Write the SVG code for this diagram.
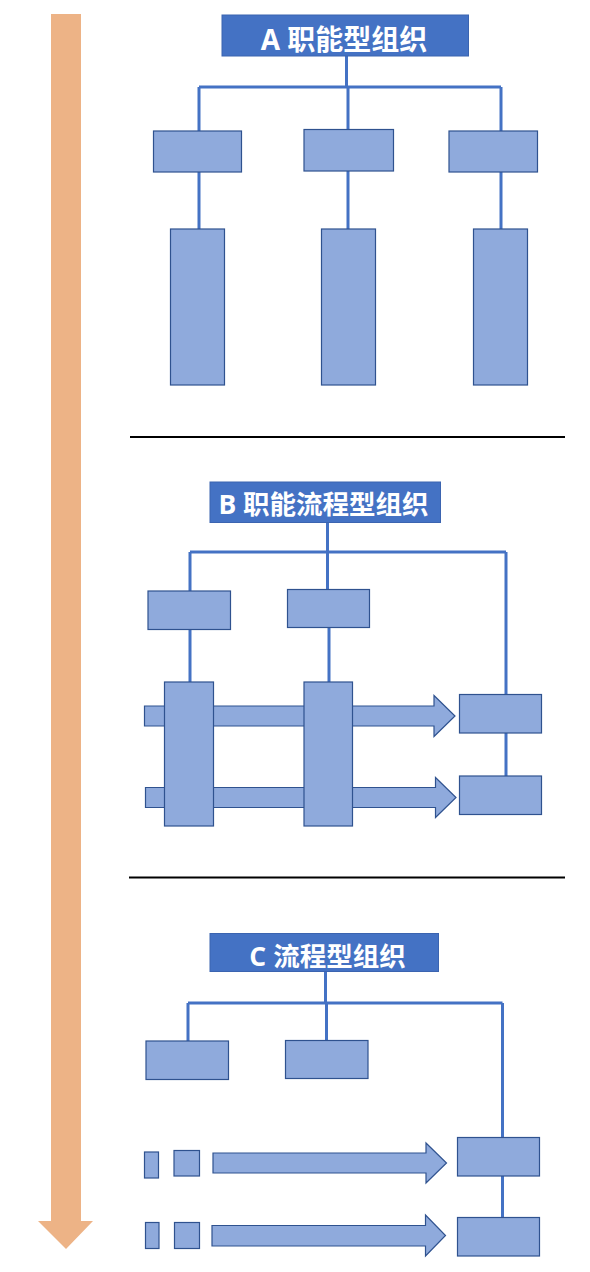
<svg xmlns="http://www.w3.org/2000/svg" width="590" height="1272" viewBox="0 0 590 1272">
<style>
.title{fill:#4472C4;stroke:#3B64B0;stroke-width:1}
.tt{font-family:"Open Sans","Noto Sans CJK SC",sans-serif;font-weight:bold;font-size:26.5px;fill:#fff;text-anchor:middle}
.box{fill:#8FAADC;stroke:#2F528F;stroke-width:1.2}
.conn{fill:none;stroke:#4472C4;stroke-width:3}
.sep{stroke:#000;stroke-width:2}
</style>
<rect width="590" height="1272" fill="#fff"/>
<g id="timeline">
<polygon points="51,14 81,14 81,1221 93,1221 66,1249 38,1221 51,1221" fill="#EDB386"/>
</g>
<g id="separators">
<line class="sep" x1="130" y1="437" x2="565" y2="437"/>
<line class="sep" x1="129" y1="877.5" x2="565" y2="877.5"/>
</g>
<g id="connectors">
<path class="conn" d="M346.5,56 V87 M199,87 H501 M199,87 V131 M348,87 V129.5 M501,87 V131 M199,172 V229 M348,171 V229 M501,172 V229"/>
<path class="conn" d="M327.5,523 V552 M190,552 H506 M190,552 V591 M327.5,552 V589.5 M506,552 V694.5 M190,629 V682 M329,628 V682 M506,733 V776"/>
<path class="conn" d="M325.5,972 V1003 M188,1003 H502.5 M188,1003 V1041 M326.5,1003 V1040.5 M502.5,1003 V1137.5 M502.5,1176 V1217.5"/>
</g>
<g id="A">
<g id="A-title"><rect class="title" x="222" y="15" width="246.5" height="41"/><text class="tt" x="344" y="50" style="font-size:28px">A 职能型组织</text></g>
<rect id="A-f1" class="box" x="153.5" y="131" width="88" height="41"/>
<rect id="A-f2" class="box" x="304" y="129.5" width="89.5" height="41.5"/>
<rect id="A-f3" class="box" x="449" y="131" width="88.5" height="41"/>
<rect id="A-c1" class="box" x="170.5" y="229" width="54" height="156"/>
<rect id="A-c2" class="box" x="321.5" y="229" width="54" height="156"/>
<rect id="A-c3" class="box" x="473.5" y="229" width="54" height="156"/>
</g>
<g id="B">
<g id="B-title"><rect class="title" x="210" y="482" width="230.5" height="40.5"/><text class="tt" x="323.5" y="514">B 职能流程型组织</text></g>
<rect id="B-f1" class="box" x="148" y="591" width="82.5" height="38.5"/>
<rect id="B-f2" class="box" x="287.5" y="589.5" width="82" height="38"/>
<polygon id="B-arrow1" class="box" points="144.5,706 434,706 434,695.5 455,716 434,736.5 434,726 144.5,726"/>
<polygon id="B-arrow2" class="box" points="145.5,787.5 435.5,787.5 435.5,777.5 456,797.5 435.5,817.5 435.5,807.5 145.5,807.5"/>
<rect id="B-c1" class="box" x="164.5" y="682" width="49" height="144"/>
<rect id="B-c2" class="box" x="304" y="682" width="48.5" height="144"/>
<rect id="B-p1" class="box" x="459.5" y="694.5" width="82" height="38.5"/>
<rect id="B-p2" class="box" x="459.5" y="776" width="82" height="38.5"/>
</g>
<g id="C">
<g id="C-title"><rect class="title" x="210" y="933.5" width="228.5" height="38"/><text class="tt" x="327.5" y="966">C 流程型组织</text></g>
<rect id="C-f1" class="box" x="146" y="1041" width="82.5" height="38.5"/>
<rect id="C-f2" class="box" x="285.5" y="1040.5" width="82.5" height="38"/>
<rect id="C-s1" class="box" x="144.5" y="1152" width="14" height="26"/>
<rect id="C-s2" class="box" x="174" y="1150.5" width="25.5" height="25.5"/>
<polygon id="C-arrow1" class="box" points="213,1153 426,1153 426,1143 446.5,1163 426,1183 426,1173 213,1173"/>
<rect id="C-s3" class="box" x="145.5" y="1222.5" width="13.5" height="26"/>
<rect id="C-s4" class="box" x="174.5" y="1222.5" width="25" height="26"/>
<polygon id="C-arrow2" class="box" points="212,1225.5 425.5,1225.5 425.5,1215 445.5,1235.5 425.5,1256 425.5,1246 212,1246"/>
<rect id="C-p1" class="box" x="457.5" y="1137.5" width="82" height="38.5"/>
<rect id="C-p2" class="box" x="457.5" y="1217.5" width="82" height="38.5"/>
</g>
</svg>
